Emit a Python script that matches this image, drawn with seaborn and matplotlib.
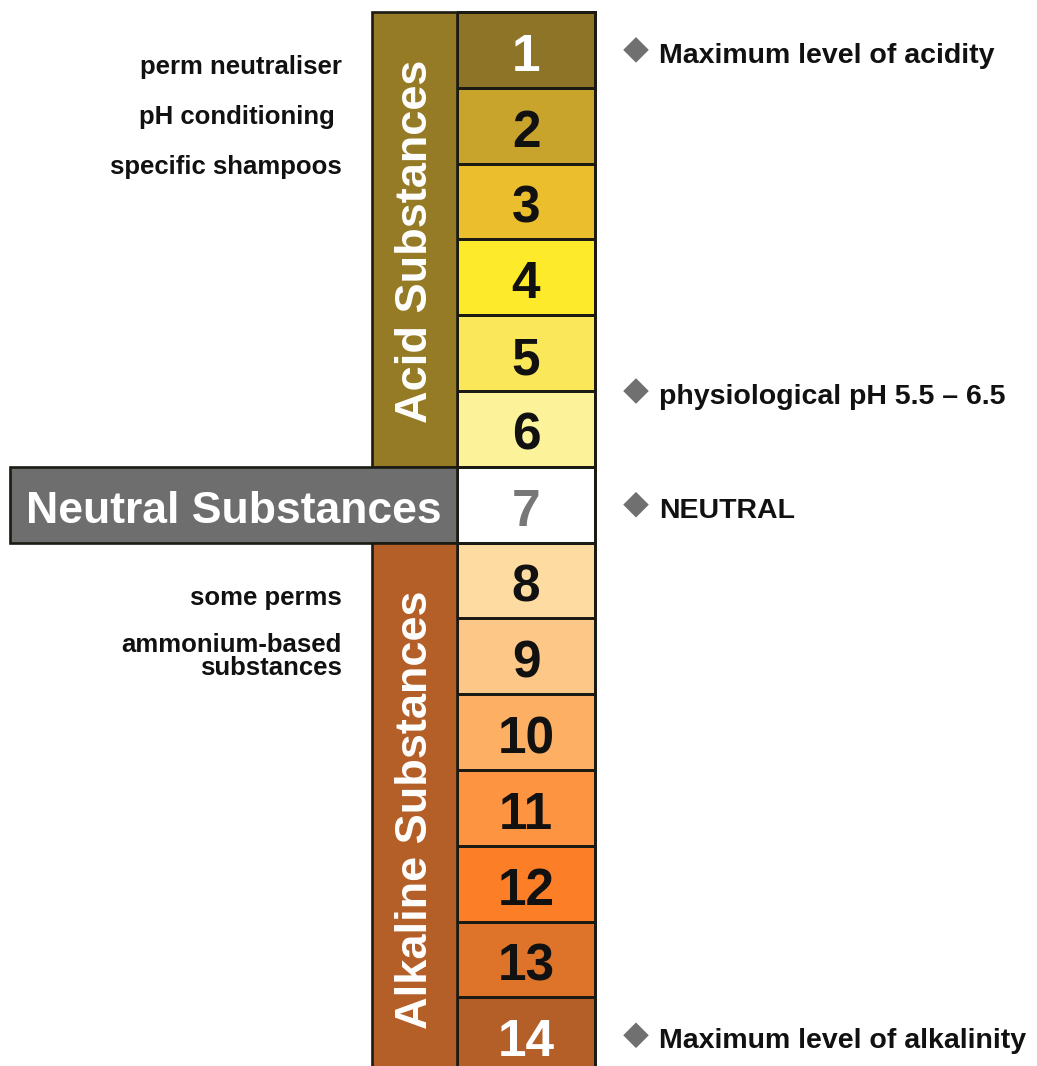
import numpy as np
import pandas as pd
import matplotlib
matplotlib.use("Agg")
import matplotlib.pyplot as plt
from matplotlib.colors import ListedColormap
from matplotlib.patches import Rectangle
import seaborn as sns

# ---------------- data ----------------
ph_values = list(range(1, 15))
cell_colors = ["#8E7427", "#C9A42D", "#EBBE2E", "#FDEA2A", "#FBE85A", "#FCF29A", "#FFFFFF",
               "#FEDBA0", "#FDC887", "#FDAF63", "#FC9441", "#FC7F28", "#DE7429", "#B35F27"]
number_colors = ["#FFFFFF", "#111111", "#111111", "#111111", "#111111", "#111111", "#777777",
                 "#111111", "#111111", "#111111", "#111111", "#111111", "#111111", "#FFFFFF"]

groups = ["Acid Substances", "Neutral Substances", "Alkaline Substances"]
group_start = [1, 7, 8]
group_end = [6, 7, 14]
group_colors = ["#957B25", "#6E6E6E", "#B35F27"]

right_labels = ["Maximum level of acidity", "physiological pH 5.5 \u2013 6.5", "NEUTRAL",
                "Maximum level of alkalinity"]
right_ph = [1, 5.5, 7, 14]

left_labels = ["perm neutraliser", "pH conditioning ", "specific shampoos", "some perms",
               "ammonium-based\nsubstances"]
left_rows = [0.70, 1.36, 2.01, 7.70, 8.47]

# ---------------- figure ----------------
sns.set_theme(style="white")
plt.rcParams["font.family"] = ["Liberation Sans", "DejaVu Sans"]

W, H = 1037, 1066
fig = plt.figure(figsize=(W / 100, H / 100), dpi=100)
ax = fig.add_axes([0, 0, 1, 1])

# pixel geometry of the scale
x0_px, cell_w_px = 457, 138
y0_px, cell_h_px = 12, 75.8

df = pd.DataFrame({"pH": ph_values}, index=ph_values)
cmap = ListedColormap(cell_colors)
sns.heatmap(df[["pH"]], ax=ax, cmap=cmap, vmin=0.5, vmax=14.5, cbar=False,
            linewidths=1.9, linecolor="#1b1b14", annot=False)

ax.set_xlim(-x0_px / cell_w_px, (W - x0_px) / cell_w_px)
ax.set_ylim((H - y0_px) / cell_h_px, -y0_px / cell_h_px)
ax.axis("off")

# numbers in the cells
for i, (v, c) in enumerate(zip(ph_values, number_colors)):
    ax.text(0.5, i + 0.6, str(v), ha="center", va="center", fontsize=37,
            fontweight="bold", color=c)

# group bands
band_left_narrow = (372 - x0_px) / cell_w_px
band_left_wide = (10 - x0_px) / cell_w_px
for g, s, e, col in zip(groups, group_start, group_end, group_colors):
    left = band_left_wide if s == e else band_left_narrow
    ax.add_patch(Rectangle((left, s - 1), -left, e - s + 1, facecolor=col,
                           edgecolor="#1b1b14", linewidth=1.9, zorder=3))
    cy = (s - 1 + e) / 2
    if s == e:
        ax.text(left / 2, cy + 0.09, g, ha="center", va="center", color="white",
                fontsize=32, fontweight="bold", zorder=4)
    else:
        ax.text(left / 2 + 0.01, cy + 0.03, g, ha="center", va="center", color="white",
                fontsize=32.5, fontweight="bold", rotation=90, zorder=4)

# right labels with diamond markers
dia_x = (636 - x0_px) / cell_w_px
txt_x = (659 - x0_px) / cell_w_px
rdf = pd.DataFrame({"x": [dia_x] * len(right_ph), "y": [p - 0.5 for p in right_ph]})
sns.scatterplot(data=rdf, x="x", y="y", marker="D", s=170, color="#707070",
                edgecolor="none", ax=ax, legend=False, zorder=5)
ax.set_xlabel("")
ax.set_ylabel("")
for lab, p in zip(right_labels, right_ph):
    ax.text(txt_x, p - 0.5 + 0.08, lab, ha="left", va="center", fontsize=20.5,
            fontweight="bold", color="#111111")

# left labels
lx = (342 - x0_px) / cell_w_px
for lab, r in zip(left_labels, left_rows):
    ax.text(lx, r + 0.03, lab, ha="right", va="center", fontsize=18.5, fontweight="bold",
            color="#111111", linespacing=0.95)

fig.savefig("out.png", dpi=100)
